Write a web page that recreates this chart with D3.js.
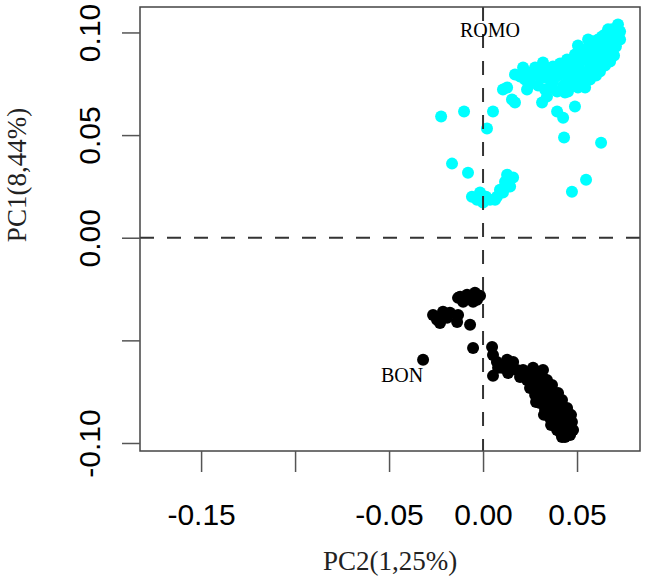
<!DOCTYPE html>
<html>
<head>
<meta charset="utf-8">
<script src="https://cdn.jsdelivr.net/npm/d3@7"></script>
<style>
  body { margin: 0; background: #fff; }
</style>
</head>
<body>
<div id="chart"></div>
<script>
// PCA scatter: PC2 on x, PC1 on y, two groups (ROMO cyan, BON black)

// [PC2, PC1]
let romo = [
  [-0.0223, 0.0590], [-0.0101, 0.0615], [0.0053, 0.0615], [0.0021, 0.0532],
  [-0.0165, 0.0361], [-0.0080, 0.0317], [0.0431, 0.0488], [0.0628, 0.0463],
  [0.0548, 0.0283], [0.0473, 0.0224],
  [-0.0059, 0.0200], [-0.0016, 0.0220], [0.0000, 0.0171], [0.0037, 0.0185],
  [0.0074, 0.0200], [0.0090, 0.0234], [0.0117, 0.0273], [0.0128, 0.0307],
  [0.0160, 0.0293], [0.0144, 0.0249], [0.0106, 0.0220], [0.0064, 0.0185],
  [-0.0032, 0.0185], [0.0016, 0.0200],
  [0.0128, 0.0732], [0.0170, 0.0795], [0.0234, 0.0722], [0.0277, 0.0829],
  [0.0170, 0.0659], [0.0154, 0.0673], [0.0314, 0.0659], [0.0340, 0.0688],
  [0.0394, 0.0615], [0.0426, 0.0585], [0.0489, 0.0639], [0.0436, 0.0707],
  [0.0543, 0.0732], [0.0473, 0.0756], [0.0106, 0.0722],
  [0.0197, 0.0785], [0.0239, 0.0805], [0.0293, 0.0810], [0.0335, 0.0820],
  [0.0372, 0.0834], [0.0410, 0.0849], [0.0447, 0.0868], [0.0489, 0.0893],
  [0.0532, 0.0917], [0.0569, 0.0941], [0.0612, 0.0966], [0.0649, 0.0990],
  [0.0686, 0.1015], [0.0718, 0.1039], [0.0729, 0.1005], [0.0729, 0.0966],
  [0.0707, 0.0932], [0.0681, 0.0907], [0.0654, 0.0883], [0.0622, 0.0859],
  [0.0590, 0.0829], [0.0559, 0.0805], [0.0521, 0.0780], [0.0479, 0.0761],
  [0.0426, 0.0741], [0.0372, 0.0761], [0.0330, 0.0780], [0.0399, 0.0790],
  [0.0441, 0.0810], [0.0495, 0.0834], [0.0548, 0.0868], [0.0596, 0.0902],
  [0.0638, 0.0937], [0.0676, 0.0971], [0.0702, 0.1000], [0.0622, 0.0927],
  [0.0569, 0.0888], [0.0516, 0.0859], [0.0463, 0.0834], [0.0410, 0.0810],
  [0.0665, 0.0946], [0.0686, 0.0956], [0.0601, 0.0941], [0.0543, 0.0898],
  [0.0505, 0.0878], [0.0473, 0.0859], [0.0426, 0.0829], [0.0383, 0.0810],
  [0.0346, 0.0795], [0.0580, 0.0859], [0.0612, 0.0878], [0.0644, 0.0907],
  [0.0713, 0.0976], [0.0665, 0.1015], [0.0633, 0.0980], [0.0585, 0.0956],
  [0.0516, 0.0820], [0.0473, 0.0795], [0.0452, 0.0771], [0.0569, 0.0844],
  [0.0266, 0.0790], [0.0223, 0.0771], [0.0303, 0.0785], [0.0356, 0.0732],
  [0.0505, 0.0732], [0.0601, 0.0790], [0.0649, 0.0839], [0.0697, 0.0888],
  [0.0250, 0.0751], [0.0293, 0.0741], [0.0330, 0.0722], [0.0394, 0.0712],
  [0.0452, 0.0712], [0.0569, 0.0771], [0.0622, 0.0810], [0.0676, 0.0859],
  [0.0686, 0.0927], [0.0213, 0.0829], [0.0319, 0.0854], [0.0559, 0.0966],
  [0.0505, 0.0937]
];

let bon = [
  [-0.0122, -0.0288], [-0.0085, -0.0278], [-0.0043, -0.0268], [-0.0016, -0.0283],
  [-0.0053, -0.0312], [-0.0106, -0.0312], [-0.0133, -0.0293], [-0.0032, -0.0302],
  [-0.0069, -0.0288],
  [-0.0266, -0.0376], [-0.0213, -0.0361], [-0.0176, -0.0366], [-0.0133, -0.0376],
  [-0.0229, -0.0415], [-0.0138, -0.0410], [-0.0245, -0.0400], [-0.0191, -0.0390],
  [-0.0069, -0.0424], [-0.0053, -0.0537], [-0.0319, -0.0595],
  [0.0048, -0.0532], [0.0053, -0.0571], [0.0074, -0.0605], [0.0080, -0.0634],
  [0.0053, -0.0673], [0.0128, -0.0595], [0.0160, -0.0605], [0.0181, -0.0644],
  [0.0133, -0.0659], [0.0213, -0.0644], [0.0266, -0.0634], [0.0287, -0.0678],
  [0.0234, -0.0693], [0.0250, -0.0732], [0.0101, -0.0634], [0.0154, -0.0634],
  [0.0197, -0.0678],
  [0.0239, -0.0668], [0.0266, -0.0717], [0.0293, -0.0751], [0.0319, -0.0790],
  [0.0346, -0.0829], [0.0372, -0.0863], [0.0399, -0.0898], [0.0426, -0.0927],
  [0.0447, -0.0951], [0.0463, -0.0927], [0.0473, -0.0898], [0.0452, -0.0863],
  [0.0426, -0.0829], [0.0399, -0.0790], [0.0372, -0.0751], [0.0346, -0.0717],
  [0.0319, -0.0683], [0.0293, -0.0654], [0.0277, -0.0693], [0.0303, -0.0732],
  [0.0330, -0.0766], [0.0356, -0.0800], [0.0383, -0.0839], [0.0410, -0.0878],
  [0.0436, -0.0912], [0.0356, -0.0878], [0.0330, -0.0839], [0.0303, -0.0805],
  [0.0277, -0.0766], [0.0383, -0.0912], [0.0410, -0.0946], [0.0436, -0.0971],
  [0.0463, -0.0961], [0.0479, -0.0937], [0.0346, -0.0766], [0.0372, -0.0790],
  [0.0399, -0.0829], [0.0426, -0.0863], [0.0452, -0.0898], [0.0330, -0.0717],
  [0.0356, -0.0741], [0.0319, -0.0644], [0.0340, -0.0693], [0.0367, -0.0717],
  [0.0399, -0.0756], [0.0420, -0.0790], [0.0447, -0.0829], [0.0468, -0.0863],
  [0.0303, -0.0693], [0.0335, -0.0800], [0.0367, -0.0829], [0.0388, -0.0790],
  [0.0415, -0.0893], [0.0441, -0.0878], [0.0282, -0.0800], [0.0324, -0.0863],
  [0.0362, -0.0912], [0.0394, -0.0937], [0.0420, -0.0971]
];

let xTicks = [-0.15, -0.10, -0.05, 0.00, 0.05];
let xTickLabels = ["-0.15", "", "-0.05", "0.00", "0.05"];
let yTicks = [-0.10, -0.05, 0.00, 0.05, 0.10];
let yTickLabels = ["-0.10", "", "0.00", "0.05", "0.10"];
let xRange = [-0.1825, 0.0835];
let yRange = [-0.1039, 0.1124];
let groupLabels = [
  { text: "ROMO", pc2: 0.0037, pc1: 0.1010 },
  { text: "BON", pc2: -0.0431, pc1: -0.0668 }
];
let xTitle = "PC2(1,25%)";
let yTitle = "PC1(8,44%)";

let svgWidth = 645;
let svgHeight = 577;
let plotLeft = 140, plotRight = 640, plotTop = 7, plotBottom = 451;

let svg = d3.select("#chart")
  .append("svg")
  .attr("width", svgWidth)
  .attr("height", svgHeight)

let xScale = d3.scaleLinear().domain(xRange).range([plotLeft, plotRight])
let yScale = d3.scaleLinear().domain(yRange).range([plotBottom, plotTop])

let sans = "'Liberation Sans', Arial, sans-serif";
let serif = "'Liberation Serif', 'Times New Roman', serif";

// points
svg.append("g").selectAll("circle")
  .data(romo)
  .enter()
  .append("circle")
  .attr("cx", d => xScale(d[0]))
  .attr("cy", d => yScale(d[1]))
  .attr("r", 6)
  .attr("fill", "#00ffff")

svg.append("g").selectAll("circle")
  .data(bon)
  .enter()
  .append("circle")
  .attr("cx", d => xScale(d[0]))
  .attr("cy", d => yScale(d[1]))
  .attr("r", 6)
  .attr("fill", "#000")

// dashed reference lines at zero
svg.append("line")
  .attr("x1", xScale(0)).attr("x2", xScale(0))
  .attr("y1", plotTop).attr("y2", plotBottom)
  .attr("stroke", "#333").attr("stroke-width", 2)
  .attr("stroke-dasharray", "14,13")

svg.append("line")
  .attr("x1", plotLeft).attr("x2", plotRight)
  .attr("y1", yScale(0)).attr("y2", yScale(0))
  .attr("stroke", "#333").attr("stroke-width", 2)
  .attr("stroke-dasharray", "14,13")

// box
svg.append("rect")
  .attr("x", plotLeft).attr("y", plotTop)
  .attr("width", plotRight - plotLeft).attr("height", plotBottom - plotTop)
  .attr("fill", "none")
  .attr("stroke", "#444")
  .attr("stroke-width", 1.5)

// axes
let xAxis = d3.axisBottom(xScale)
  .tickValues(xTicks)
  .tickFormat((d, i) => xTickLabels[i])
  .tickSize(21)

let gx = svg.append("g")
  .attr("transform", `translate(0,${plotBottom})`)
  .call(xAxis)

gx.select(".domain").remove()
gx.selectAll("line").attr("stroke", "#555").attr("stroke-width", 1.5)
gx.selectAll("text")
  .attr("y", 74)
  .attr("dy", 0)
  .attr("fill", "#000")
  .style("font-family", sans)
  .style("font-size", "30px")

let yAxis = d3.axisLeft(yScale)
  .tickValues(yTicks)
  .tickFormat((d, i) => yTickLabels[i])
  .tickSize(18)

let gy = svg.append("g")
  .attr("transform", `translate(${plotLeft},0)`)
  .call(yAxis)

gy.select(".domain").remove()
gy.selectAll("line").attr("stroke", "#555").attr("stroke-width", 1.5)
gy.selectAll("text")
  .attr("transform", "rotate(-90)")
  .attr("x", 0)
  .attr("y", -40)
  .attr("dy", 0)
  .attr("text-anchor", "middle")
  .attr("fill", "#000")
  .style("font-family", sans)
  .style("font-size", "30px")

// group labels
svg.append("g").selectAll("text")
  .data(groupLabels)
  .enter()
  .append("text")
  .attr("x", d => xScale(d.pc2))
  .attr("y", d => yScale(d.pc1))
  .attr("dy", "0.35em")
  .attr("text-anchor", "middle")
  .style("font-family", serif)
  .style("font-size", "20px")
  .text(d => d.text)

// axis titles
svg.append("text")
  .attr("x", (plotLeft + plotRight) / 2)
  .attr("y", 570)
  .attr("text-anchor", "middle")
  .style("font-family", serif)
  .style("font-size", "27px")
  .attr("fill", "#222")
  .text(xTitle)

svg.append("text")
  .attr("transform", "translate(26,175) rotate(-90)")
  .attr("text-anchor", "middle")
  .style("font-family", serif)
  .style("font-size", "27px")
  .attr("fill", "#222")
  .text(yTitle)
</script>
</body>
</html>
